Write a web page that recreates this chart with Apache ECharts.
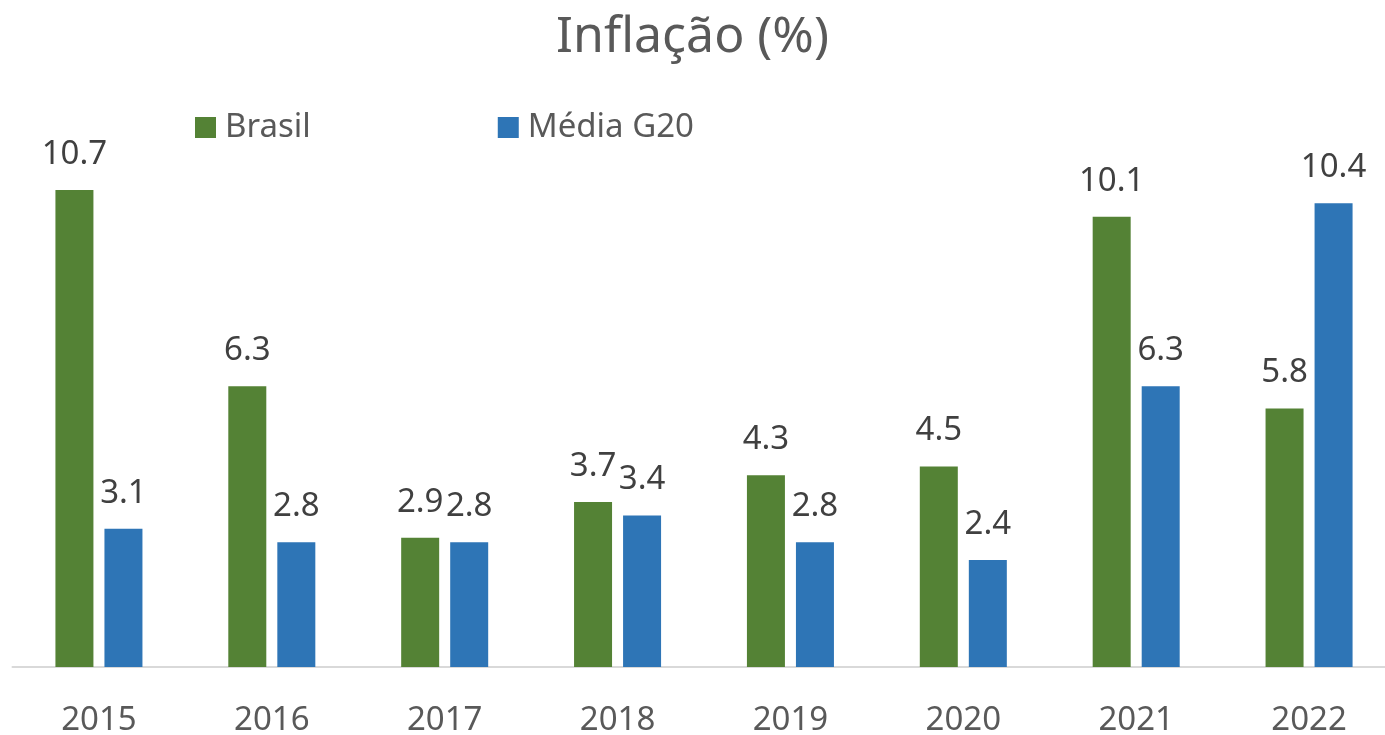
<!DOCTYPE html>
<html>
<head>
<meta charset="utf-8">
<title>Inflação (%)</title>
<script src="https://cdn.jsdelivr.net/npm/echarts@6/dist/echarts.min.js"></script>
<style>
    html, body { margin: 0; padding: 0; background: #fff; }
    #chart { width: 1385px; height: 735px; }
</style>
</head>
<body>
<div id="chart"></div>
<script>
// dados
var years = ['2015', '2016', '2017', '2018', '2019', '2020', '2021', '2022'];
var brasil = [10.7, 6.3, 2.9, 3.7, 4.3, 4.5, 10.1, 5.8];
var mediaG20 = [3.1, 2.8, 2.8, 3.4, 2.8, 2.4, 6.3, 10.4];

var myChart = echarts.init(document.getElementById('chart'));
var font = '"Noto Sans", sans-serif';

var labelStyle = {
    show: true,
    position: 'top',
    distance: 19,
    color: '#404040',
    fontSize: 33,
    fontFamily: font
};

option = {
    animation: false,
    title: {
        text: 'Inflação (%)',
        left: 'center',
        top: 8,
        textStyle: {
            color: '#595959',
            fontSize: 50,
            fontWeight: 'normal',
            fontFamily: font
        }
    },
    legend: {
        left: 190,
        top: 106,
        itemWidth: 21,
        itemHeight: 21,
        itemGap: 187,
        icon: 'rect',
        textStyle: {
            color: '#595959',
            fontSize: 33,
            fontFamily: font,
            padding: [0, 0, 0, 4]
        },
        data: ['Brasil', 'Média G20']
    },
    grid: {
        left: 12.5,
        width: 1383,
        top: 132,
        height: 535,
        outerBoundsMode: 'none'
    },
    xAxis: {
        type: 'category',
        data: years,
        axisLine: {
            show: true,
            lineStyle: { color: '#D9D9D9', width: 2 }
        },
        axisTick: { show: false },
        axisLabel: {
            margin: 37,
            color: '#595959',
            fontSize: 33,
            fontFamily: font
        }
    },
    yAxis: {
        type: 'value',
        min: 0,
        max: 12,
        show: false,
        splitLine: { show: false }
    },
    series: [
        {
            name: 'Brasil',
            type: 'bar',
            barWidth: 38,
            barGap: '29%',
            data: brasil,
            itemStyle: { color: '#548235' },
            label: labelStyle
        },
        {
            name: 'Média G20',
            type: 'bar',
            barWidth: 38,
            data: mediaG20,
            itemStyle: { color: '#2E75B6' },
            label: labelStyle
        }
    ]
};
myChart.setOption(option);
</script>
</body>
</html>
